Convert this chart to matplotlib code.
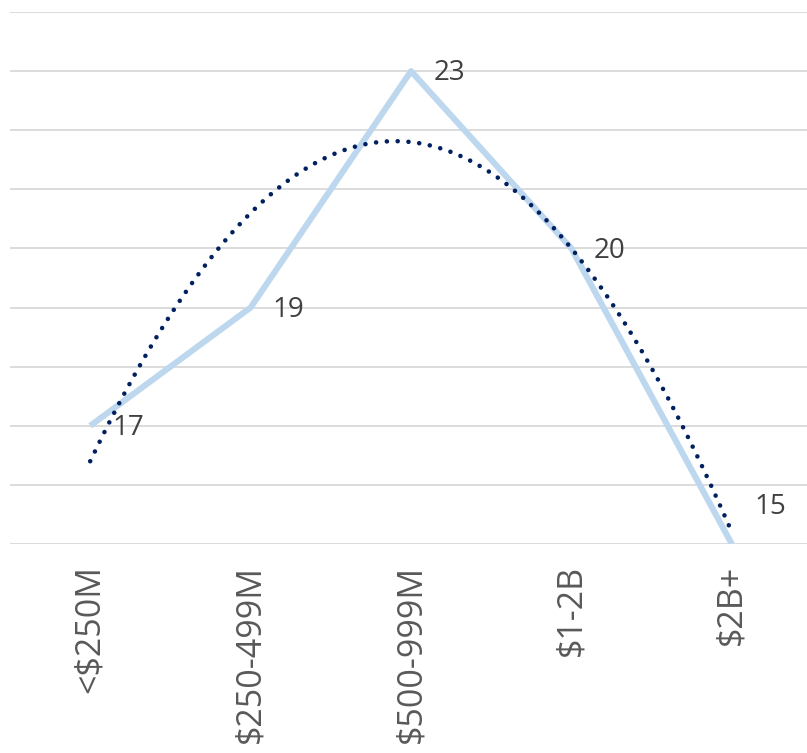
import numpy as np
import matplotlib
matplotlib.use("Agg")
import matplotlib.pyplot as plt

categories = ["<$250M", "$250-499M", "$500-999M", "$1-2B", "$2B+"]
values = [17, 19, 23, 20, 15]
label_offsets = [(16, -1.5), (16, -1.5), (16, -1.5), (16, -1.5), (16, 27)]

plt.rcParams['font.family'] = ['Open Sans', 'DejaVu Sans']

W, H = 807, 753
fig = plt.figure(figsize=(W / 100, H / 100), dpi=100)
ax = fig.add_axes([10 / W, (H - 544) / H, 802 / W, (544 - 12) / H])

x = np.arange(len(categories))
ax.plot(x, values, color="#BDD7EE", lw=4.4, solid_capstyle="butt", zorder=3)

# polynomial (order 2) trendline fitted to the data
coef = np.polyfit(x, values, 2)
xs = np.linspace(0, len(categories) - 1, 300)
ax.plot(xs, np.polyval(coef, xs), color="#002060", lw=3.3,
        linestyle=(0, (0.01, 2.35)), dash_capstyle="round", zorder=4)

for xi, v, (dx, dy) in zip(x, values, label_offsets):
    ax.annotate(str(v), (xi, v), xytext=(dx, dy), textcoords="offset points",
                ha="left", va="center", fontsize=20, color="#404040", zorder=5)

ax.set_xlim(-0.5, len(categories) - 0.5)
ax.set_ylim(15, 24)
ax.set_yticks(np.arange(15, 25, 1))
ax.yaxis.grid(True, color="#D9D9D9", lw=1.3)
ax.set_axisbelow(True)
ax.tick_params(axis="y", left=False, labelleft=False)
ax.tick_params(axis="x", length=0, pad=15)
ax.set_xticks(x)
ax.set_xticklabels(categories, rotation=90, fontsize=24.5, color="#595959",
                   va="top", ha="center")
for s in ax.spines.values():
    s.set_visible(False)

fig.savefig("out.png", dpi=100)
